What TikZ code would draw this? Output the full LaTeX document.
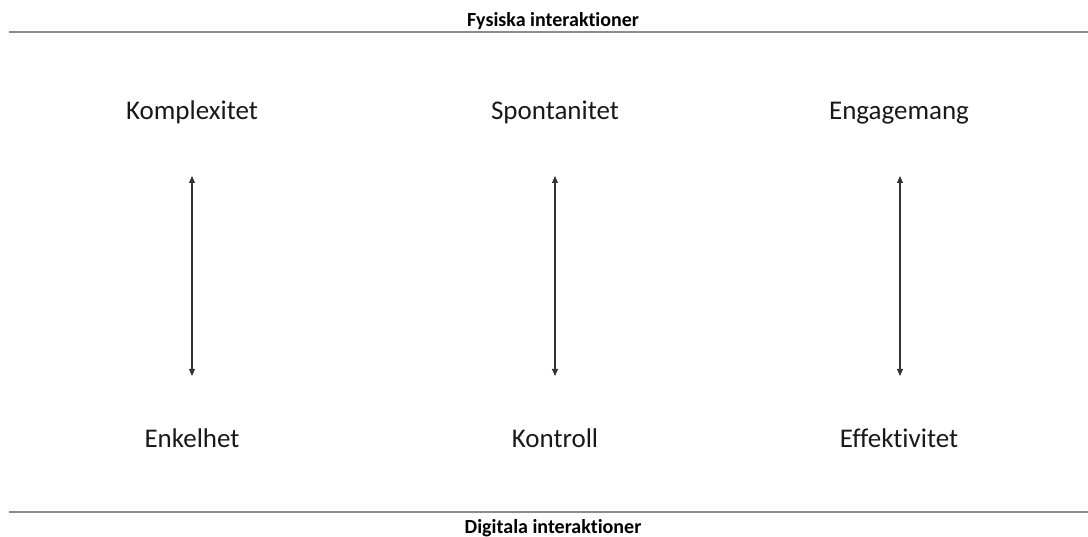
\documentclass[tikz,border=0pt]{standalone}
\usepackage{fontspec}
\setmainfont{Carlito}[Ligatures={NoCommon}]
\usetikzlibrary{arrows.meta}
\begin{document}
\begin{tikzpicture}[x=1pt,y=-1pt,
  lbl/.style={font=\fontsize{27}{30}\selectfont, text=black!90, inner sep=0pt, anchor=base},
  ttl/.style={font=\bfseries\fontsize{20}{22}\selectfont, text=black, inner sep=0pt, anchor=base},
  rule/.style={draw=black!45, line width=1.8pt},
  arr/.style={draw=black!80, line width=1.1pt, {Triangle[length=7pt,width=6pt]}-{Triangle[length=7pt,width=6pt]}}]
\useasboundingbox (0,0) rectangle (1088,537);
\node[ttl] (top) at (553,27) {Fysiska interaktioner};
\node[ttl] (bot) at (553,533) {Digitala interaktioner};
\coordinate (tl) at (9,32);
\coordinate (tr) at (1088,32);
\coordinate (bl) at (9,512);
\coordinate (br) at (1088,512);
\draw[rule] (tl) -- (tr);
\draw[rule] (bl) -- (br);
\node[lbl] (k1) at (192,120) {Komplexitet};
\node[lbl] (k2) at (555,120) {Spontanitet};
\node[lbl] (k3) at (899,120) {Engagemang};
\node[lbl] (e1) at (192,447) {Enkelhet};
\node[lbl] (e2) at (555,447) {Kontroll};
\node[lbl] (e3) at (899,447) {Effektivitet};
\coordinate (a1t) at (192,176); \coordinate (a1b) at (192,376);
\coordinate (a2t) at (555,176); \coordinate (a2b) at (555,376);
\coordinate (a3t) at (900,176); \coordinate (a3b) at (900,376);
\draw[arr] (a1t) -- (a1b);
\draw[arr] (a2t) -- (a2b);
\draw[arr] (a3t) -- (a3b);
\end{tikzpicture}
\end{document}
